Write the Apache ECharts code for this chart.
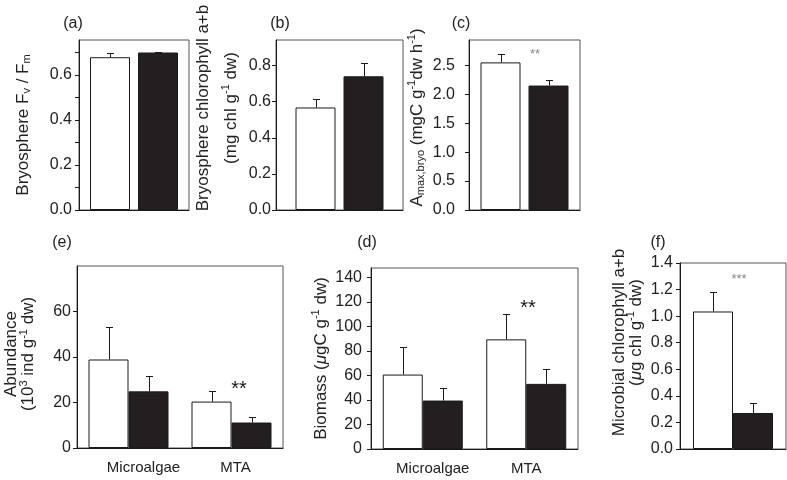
<!DOCTYPE html>
<html><head><meta charset="utf-8">
<script src="https://cdn.jsdelivr.net/npm/echarts@6/dist/echarts.min.js"></script>
<style>html,body{margin:0;padding:0;background:#fff}#c{width:787px;height:480px}</style>
</head><body><div id="c"></div>
<script>
// ---------------- data ----------------
const singleCategory = [''];
const groupCategories = ['Microalgae', 'MTA'];

const fvfmControl = [0.679];      const fvfmControlErr = [0.020];
const fvfmTreated = [0.700];      const fvfmTreatedErr = [0.004];
const chlBryoControl = [0.568];   const chlBryoControlErr = [0.049];
const chlBryoTreated = [0.741];   const chlBryoTreatedErr = [0.074];
const amaxControl = [2.55];       const amaxControlErr = [0.14];
const amaxTreated = [2.15];       const amaxTreatedErr = [0.09];
const abundanceControl = [38.9, 20.4]; const abundanceControlErr = [14.5, 4.8];
const abundanceTreated = [24.9, 11.2]; const abundanceTreatedErr = [6.6, 2.6];
const biomassControl = [60.7, 89.4];   const biomassControlErr = [22.7, 20.8];
const biomassTreated = [39.5, 53.1];   const biomassTreatedErr = [10.3, 12.4];
const chlMicroControl = [1.035];  const chlMicroControlErr = [0.145];
const chlMicroTreated = [0.271];  const chlMicroTreatedErr = [0.072];

const fvfmTicks = [0, 0.1, 0.2, 0.3, 0.4, 0.5, 0.6, 0.7];
const fvfmLabels = [0, 0.2, 0.4, 0.6];
const chlBryoTicks = [0, 0.2, 0.4, 0.6, 0.8];
const amaxTicks = [0, 0.5, 1.0, 1.5, 2.0, 2.5];
const abundanceTicks = [0, 20, 40, 60];
const biomassTicks = [0, 20, 40, 60, 80, 100, 120, 140];
const chlMicroTicks = [0, 0.2, 0.4, 0.6, 0.8, 1.0, 1.2, 1.4];

// ---------------- layout / style ----------------
const FONT = '"Liberation Sans", Arial, Helvetica, sans-serif';
const BAR_W = 40;

const panels = [
  { cats: singleCategory, ctrl: fvfmControl, ctrlErr: fvfmControlErr, trt: fvfmTreated, trtErr: fvfmTreatedErr,
    ticks: fvfmTicks, labels: fvfmLabels, dec: 1, max: 0.7556, gap: 8,
    grid: { left: 79, top: 40, width: 110, height: 170 },
    name: '{t|Bryosphere F}{sub|v}{t| / F}{sub|m}', lh: 20, nameGap: 46, namePad: 0, labelMargin: 7, showX: false },
  { cats: singleCategory, ctrl: chlBryoControl, ctrlErr: chlBryoControlErr, trt: chlBryoTreated, trtErr: chlBryoTreatedErr,
    ticks: chlBryoTicks, labels: chlBryoTicks, dec: 1, max: 0.942, gap: 8,
    grid: { left: 276, top: 40, width: 127, height: 170 },
    name: '{t|Bryosphere chlorophyll a+b}\n{t|(mg chl g}{sup|-1}{t| dw)}', lh: 28, nameGap: 21, namePad: 34, labelMargin: 5, showX: false },
  { cats: singleCategory, ctrl: amaxControl, ctrlErr: amaxControlErr, trt: amaxTreated, trtErr: amaxTreatedErr,
    ticks: amaxTicks, labels: amaxTicks, dec: 1, max: 2.937, gap: 8,
    grid: { left: 469, top: 40, width: 111, height: 170 },
    name: '{t|A}{sub|max,bryo}{t| (mgC g}{sup|-1}{t|dw h}{sup|-1}{t|)}', lh: 20, nameGap: 42, namePad: 15, labelMargin: 14, showX: false },
  { cats: groupCategories, ctrl: abundanceControl, ctrlErr: abundanceControlErr, trt: abundanceTreated, trtErr: abundanceTreatedErr,
    ticks: abundanceTicks, labels: abundanceTicks, dec: 0, max: 80, gap: 0,
    grid: { left: 77, top: 266, width: 206, height: 182 },
    name: '{t|Abundance}\n{t|(10}{sup|3}{t| ind g}{sup|-1}{t| dw)}', lh: 17, nameGap: 40, namePad: 6, labelMargin: 6, showX: true, catShift: [15, 4] },
  { cats: groupCategories, ctrl: biomassControl, ctrlErr: biomassControlErr, trt: biomassTreated, trtErr: biomassTreatedErr,
    ticks: biomassTicks, labels: biomassTicks, dec: 0, max: 147.6, gap: 0,
    grid: { left: 371, top: 268, width: 207, height: 181 },
    name: '{t|Biomass (}{mu|μ}{t|gC g}{sup|-1}{t| dw)}', lh: 20, nameGap: 38, namePad: 0, labelMargin: 9, showX: true, catShift: [10, 0] },
  { cats: singleCategory, ctrl: chlMicroControl, ctrlErr: chlMicroControlErr, trt: chlMicroTreated, trtErr: chlMicroTreatedErr,
    ticks: chlMicroTicks, labels: chlMicroTicks, dec: 1, max: 1.4, gap: 0,
    grid: { left: 680, top: 263, width: 106, height: 186 },
    name: '{t|Microbial chlorophyll a+b}\n{t2|(}{mu|μ}{t|g chl g}{sup|-1}{t| dw)}', lh: 17, nameGap: 35, namePad: 27, labelMargin: 7, showX: false }
];

function richFor(lh) {
  return {
    t:   { fontSize: 17, fontFamily: FONT, color: '#222', lineHeight: lh, verticalAlign: 'middle' },
    t2:  { fontSize: 17, fontFamily: FONT, color: '#222', lineHeight: lh, verticalAlign: 'middle', padding: [0, 0, 0, 20] },
    mu:  { fontSize: 17, fontFamily: FONT, color: '#222', lineHeight: lh, verticalAlign: 'middle', fontStyle: 'italic' },
    sup: { fontSize: 11, fontFamily: FONT, color: '#222', lineHeight: lh, verticalAlign: 'middle', padding: [0, 0, 10, 0] },
    sub: { fontSize: 11, fontFamily: FONT, color: '#222', lineHeight: lh, verticalAlign: 'middle', padding: [8, 0, 0, 0] }
  };
}

function errRenderer(offset) {
  return function (params, api) {
    const x = api.value(0), v = api.value(1), t = api.value(2);
    const p0 = api.coord([x, v]);
    const p1 = api.coord([x, t]);
    const cx = Math.round(p0[0] + offset) + 0.5;
    const ty = Math.round(p1[1]) + 0.5;
    return {
      type: 'group',
      children: [
        { type: 'line', shape: { x1: cx, y1: p0[1], x2: cx, y2: ty }, style: { stroke: '#1a1a1a', lineWidth: 1 } },
        { type: 'line', shape: { x1: cx - 3.5, y1: ty, x2: cx + 3.5, y2: ty }, style: { stroke: '#1a1a1a', lineWidth: 1 } }
      ]
    };
  };
}

const grids = [], xAxes = [], yAxes = [], series = [];
panels.forEach((p, i) => {
  grids.push(Object.assign({ show: true, borderColor: '#555', borderWidth: 1, backgroundColor: 'transparent', containLabel: false, outerBoundsMode: 'none' }, p.grid));
  const shift = p.catShift || [0, 0];
  xAxes.push({
    gridIndex: i, type: 'category', data: p.cats,
    axisLine: { show: true, lineStyle: { color: '#1a1a1a', width: 1 } },
    axisTick: { show: false },
    axisLabel: {
      show: p.showX, fontSize: 15, fontFamily: FONT, color: '#222', margin: 12, interval: 0,
      formatter: (v, idx) => '{c' + idx + '|' + v + '}',
      rich: {
        c0: { fontSize: 15, fontFamily: FONT, color: '#222', padding: [0, 0, 0, 2 * shift[0]] },
        c1: { fontSize: 15, fontFamily: FONT, color: '#222', padding: [0, 0, 0, 2 * shift[1]] }
      }
    },
    splitLine: { show: false }
  });
  yAxes.push({
    gridIndex: i, type: 'value', min: 0, max: p.max,
    splitLine: { show: false },
    axisLine: { show: true, lineStyle: { color: '#1a1a1a', width: 1 } },
    axisTick: { show: true, inside: false, length: 4, customValues: p.ticks, lineStyle: { color: '#1a1a1a' } },
    axisLabel: { customValues: p.labels, formatter: v => Number(v).toFixed(p.dec), fontSize: 16, fontFamily: FONT, color: '#222', margin: p.labelMargin },
    name: p.name, nameLocation: 'middle', nameGap: p.nameGap, nameRotate: 90,
    nameTextStyle: { fontSize: 17, fontFamily: FONT, color: '#222', lineHeight: p.lh, padding: [0, 0, 0, p.namePad], rich: richFor(p.lh) }
  });
  const barGap = (p.gap / BAR_W * 100) + '%';
  const off = (BAR_W + p.gap) / 2;
  series.push({ type: 'bar', name: 'Control', xAxisIndex: i, yAxisIndex: i, data: p.ctrl, barWidth: BAR_W, barGap: barGap,
    itemStyle: { color: '#ffffff', borderColor: '#1a1a1a', borderWidth: 1 }, silent: true });
  series.push({ type: 'bar', name: 'Treatment', xAxisIndex: i, yAxisIndex: i, data: p.trt, barWidth: BAR_W, barGap: barGap,
    itemStyle: { color: '#231f20', borderColor: '#1a1a1a', borderWidth: 1 }, silent: true });
  series.push({ type: 'custom', xAxisIndex: i, yAxisIndex: i, renderItem: errRenderer(-off), z: 5, silent: true,
    encode: { x: 0, y: [1, 2] }, data: p.ctrl.map((v, j) => [j, v, v + p.ctrlErr[j]]) });
  series.push({ type: 'custom', xAxisIndex: i, yAxisIndex: i, renderItem: errRenderer(off), z: 5, silent: true,
    encode: { x: 0, y: [1, 2] }, data: p.trt.map((v, j) => [j, v, v + p.trtErr[j]]) });
});

const letterStyle = { fontSize: 16, fontFamily: FONT, fill: '#222', align: 'center', verticalAlign: 'middle' };
const graphic = [
  { type: 'text', x: 73, y: 24, style: Object.assign({ text: '(a)' }, letterStyle) },
  { type: 'text', x: 280, y: 24, style: Object.assign({ text: '(b)' }, letterStyle) },
  { type: 'text', x: 461, y: 24, style: Object.assign({ text: '(c)' }, letterStyle) },
  { type: 'text', x: 62, y: 243, style: Object.assign({ text: '(e)' }, letterStyle) },
  { type: 'text', x: 367, y: 243, style: Object.assign({ text: '(d)' }, letterStyle) },
  { type: 'text', x: 658, y: 243, style: Object.assign({ text: '(f)' }, letterStyle) },
  { type: 'text', x: 535, y: 54, style: { text: '**', fontSize: 13, fontFamily: FONT, fill: '#888', align: 'center', verticalAlign: 'middle' } },
  { type: 'text', x: 739, y: 279, style: { text: '***', fontSize: 13, fontFamily: FONT, fill: '#888', align: 'center', verticalAlign: 'middle' } },
  { type: 'text', x: 239, y: 389, style: { text: '**', fontSize: 20, fontFamily: FONT, fill: '#1a1a1a', align: 'center', verticalAlign: 'middle' } },
  { type: 'text', x: 528, y: 308, style: { text: '**', fontSize: 20, fontFamily: FONT, fill: '#1a1a1a', align: 'center', verticalAlign: 'middle' } }
];

const chart = echarts.init(document.getElementById('c'), null, { renderer: 'canvas' });
chart.setOption({
  animation: false,
  backgroundColor: '#ffffff',
  textStyle: { fontFamily: FONT },
  grid: grids, xAxis: xAxes, yAxis: yAxes, series: series, graphic: graphic
});
</script>
</body></html>
